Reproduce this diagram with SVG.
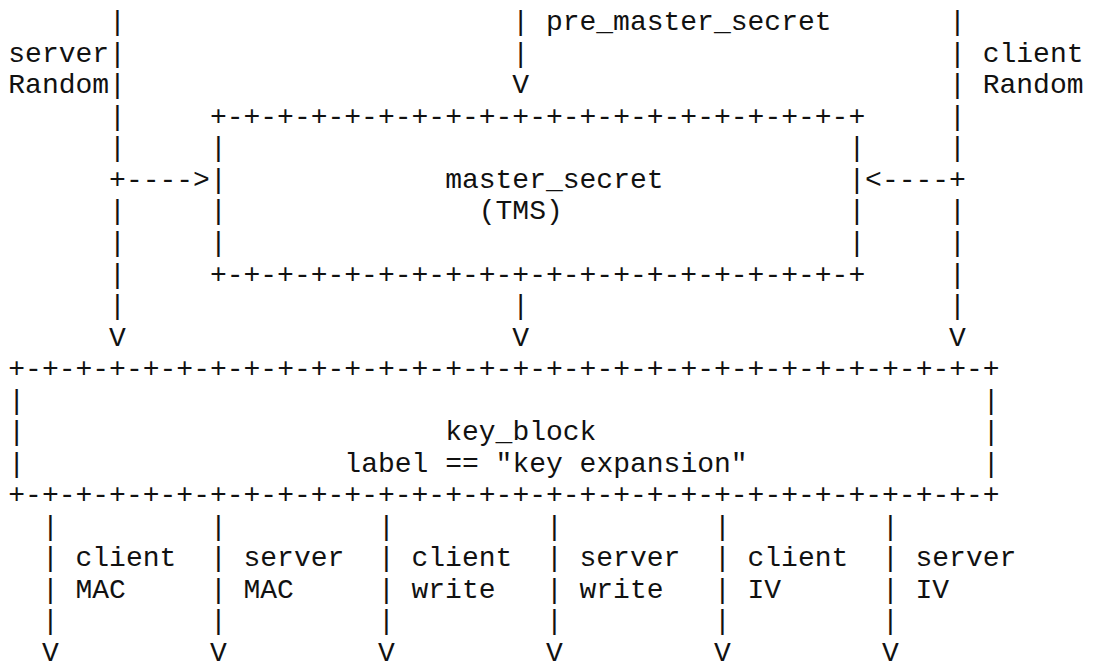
<svg xmlns="http://www.w3.org/2000/svg" width="1093" height="668" viewBox="0 0 1093 668">
<style>
text{font-family:"Liberation Mono","Courier New",monospace;font-size:28px;fill:#111;white-space:pre}
</style>
<rect width="1093" height="668" fill="#fff"/>
<g id="connectors" xml:space="preserve">
<text id="server-random-line" x="109.1"><tspan x="109.1" y="30.2">|</tspan><tspan x="109.1" y="61.7">|</tspan><tspan x="109.1" y="93.2">|</tspan><tspan x="109.1" y="124.8">|</tspan><tspan x="109.1" y="156.3">|</tspan><tspan x="109.1" y="187.9">+----&gt;</tspan><tspan x="109.1" y="219.4">|</tspan><tspan x="109.1" y="250.9">|</tspan><tspan x="109.1" y="282.5">|</tspan><tspan x="109.1" y="314.0">|</tspan><tspan x="109.1" y="345.5">V</tspan></text>
<text id="pms-in" x="512.3"><tspan x="512.3" y="30.2">|</tspan><tspan x="512.3" y="61.7">|</tspan><tspan x="512.3" y="93.2">V</tspan></text>
<text id="ms-out" x="512.3"><tspan x="512.3" y="314.0">|</tspan><tspan x="512.3" y="345.5">V</tspan></text>
<text id="client-random-line" x="949.1"><tspan x="949.1" y="30.2">|</tspan><tspan x="949.1" y="61.7">|</tspan><tspan x="949.1" y="93.2">|</tspan><tspan x="949.1" y="124.8">|</tspan><tspan x="949.1" y="156.3">|</tspan><tspan x="865.1" y="187.9">&lt;----+</tspan><tspan x="949.1" y="219.4">|</tspan><tspan x="949.1" y="250.9">|</tspan><tspan x="949.1" y="282.5">|</tspan><tspan x="949.1" y="314.0">|</tspan><tspan x="949.1" y="345.5">V</tspan></text>
<text id="out-1" x="41.9"><tspan x="41.9" y="534.7">|</tspan><tspan x="41.9" y="566.3">|</tspan><tspan x="41.9" y="597.8">|</tspan><tspan x="41.9" y="629.3">|</tspan><tspan x="41.9" y="660.9">V</tspan></text>
<text id="out-2" x="209.9"><tspan x="209.9" y="534.7">|</tspan><tspan x="209.9" y="566.3">|</tspan><tspan x="209.9" y="597.8">|</tspan><tspan x="209.9" y="629.3">|</tspan><tspan x="209.9" y="660.9">V</tspan></text>
<text id="out-3" x="377.9"><tspan x="377.9" y="534.7">|</tspan><tspan x="377.9" y="566.3">|</tspan><tspan x="377.9" y="597.8">|</tspan><tspan x="377.9" y="629.3">|</tspan><tspan x="377.9" y="660.9">V</tspan></text>
<text id="out-4" x="545.9"><tspan x="545.9" y="534.7">|</tspan><tspan x="545.9" y="566.3">|</tspan><tspan x="545.9" y="597.8">|</tspan><tspan x="545.9" y="629.3">|</tspan><tspan x="545.9" y="660.9">V</tspan></text>
<text id="out-5" x="713.9"><tspan x="713.9" y="534.7">|</tspan><tspan x="713.9" y="566.3">|</tspan><tspan x="713.9" y="597.8">|</tspan><tspan x="713.9" y="629.3">|</tspan><tspan x="713.9" y="660.9">V</tspan></text>
<text id="out-6" x="881.9"><tspan x="881.9" y="534.7">|</tspan><tspan x="881.9" y="566.3">|</tspan><tspan x="881.9" y="597.8">|</tspan><tspan x="881.9" y="629.3">|</tspan><tspan x="881.9" y="660.9">V</tspan></text>
</g>
<g id="node-master-secret" xml:space="preserve">
<text x="209.9" y="124.8">+-+-+-+-+-+-+-+-+-+-+-+-+-+-+-+-+-+-+-+</text>
<text x="209.9" y="156.3">|                                     |</text>
<text x="209.9" y="187.9">|             master_secret           |</text>
<text x="209.9" y="219.4">|               (TMS)                 |</text>
<text x="209.9" y="250.9">|                                     |</text>
<text x="209.9" y="282.5">+-+-+-+-+-+-+-+-+-+-+-+-+-+-+-+-+-+-+-+</text>
</g>
<g id="node-key-block" xml:space="preserve">
<text x="8.3" y="377.0">+-+-+-+-+-+-+-+-+-+-+-+-+-+-+-+-+-+-+-+-+-+-+-+-+-+-+-+-+-+</text>
<text x="8.3" y="408.6">|                                                         |</text>
<text x="8.3" y="440.1">|                         key_block                       |</text>
<text x="8.3" y="471.7">|                   label == "key expansion"              |</text>
<text x="8.3" y="503.2">+-+-+-+-+-+-+-+-+-+-+-+-+-+-+-+-+-+-+-+-+-+-+-+-+-+-+-+-+-+</text>
</g>
<g id="labels">
<text x="545.9" y="30.2">pre_master_secret</text>
<text x="8.3" y="61.7">server</text>
<text x="8.3" y="93.2">Random</text>
<text x="982.7" y="61.7">client</text>
<text x="982.7" y="93.2">Random</text>
<text x="75.5" y="566.3">client</text>
<text x="75.5" y="597.8">MAC</text>
<text x="243.5" y="566.3">server</text>
<text x="243.5" y="597.8">MAC</text>
<text x="411.5" y="566.3">client</text>
<text x="411.5" y="597.8">write</text>
<text x="579.5" y="566.3">server</text>
<text x="579.5" y="597.8">write</text>
<text x="747.5" y="566.3">client</text>
<text x="747.5" y="597.8">IV</text>
<text x="915.5" y="566.3">server</text>
<text x="915.5" y="597.8">IV</text>
</g>
</svg>
